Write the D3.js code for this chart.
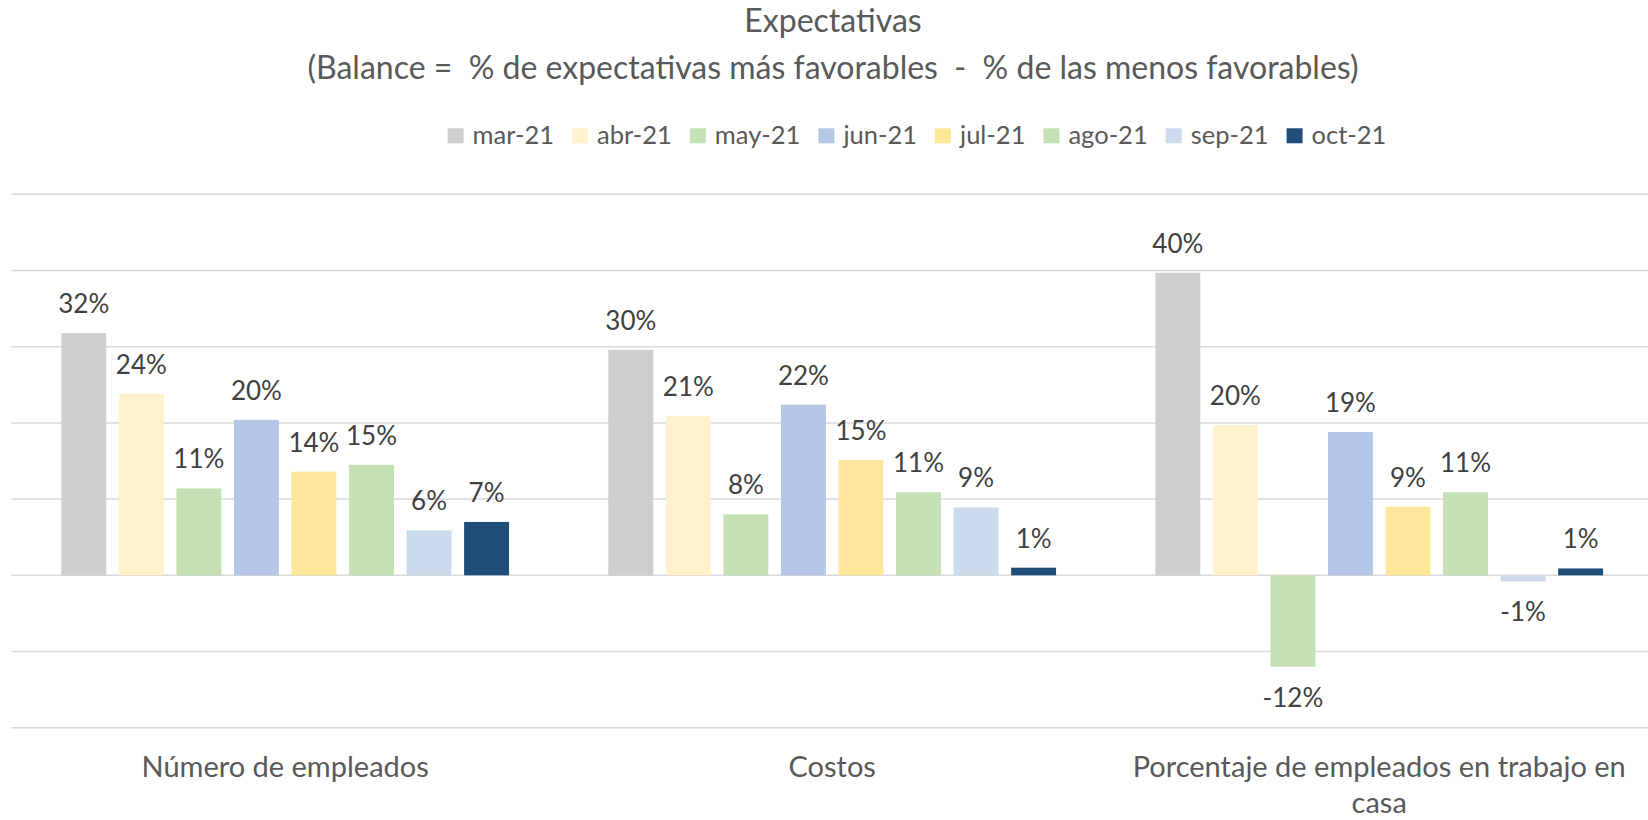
<!DOCTYPE html>
<html>
<head>
<meta charset="utf-8">
<script src="https://cdn.jsdelivr.net/npm/d3@7"></script>
<style>
  body { margin: 0; background: #fff; }
  text { font-family: Lato, "Open Sans", sans-serif; }
</style>
</head>
<body>
<div id="chart"></div>
<script>
const categories = ['Número de empleados', 'Costos', 'Porcentaje de empleados en trabajo en casa'];
const months = ['mar-21', 'abr-21', 'may-21', 'jun-21', 'jul-21', 'ago-21', 'sep-21', 'oct-21'];

// balance per month, one value per category (%)
const mar21 = [31.8, 29.6, 39.7];
const abr21 = [23.8, 20.9, 19.7];
const may21 = [11.4, 8.0, -12.0];
const jun21 = [20.4, 22.4, 18.8];
const jul21 = [13.6, 15.1, 9.0];
const ago21 = [14.5, 10.9, 10.9];
const sep21 = [5.9, 8.9, -0.8];
const oct21 = [7.0, 1.0, 0.9];
const gridTicks = [-20, -10, 0, 10, 20, 30, 40, 50];

const seriesValues = [mar21, abr21, may21, jun21, jul21, ago21, sep21, oct21];
const colors = ['#D0CECE', '#FFF2CC', '#C5E0B4', '#B4C7E7', '#FFE699', '#C5E0B4', '#CCDAEE', '#1F4E79'];

const W = 1648, H = 820;

const svg = d3.select('#chart').append('svg')
  .attr('width', W)
  .attr('height', H);

// title
const title = svg.append('text')
  .attr('text-anchor', 'middle')
  .attr('fill', '#595959')
  .style('font-size', '32px');
title.append('tspan').attr('x', 833).attr('y', 32).text('Expectativas');
title.append('tspan').attr('x', 833).attr('y', 79)
  .style('white-space', 'pre')
  .text('(Balance =  % de expectativas más favorables  -  % de las menos favorables)');

const x0 = d3.scaleBand()
  .domain(categories)
  .range([11.7, 1652.7])
  .paddingInner(0.1815)
  .paddingOuter(0.0907);

const x1 = d3.scaleBand()
  .domain(months)
  .range([0, x0.bandwidth()])
  .paddingInner(0.219);

const y = d3.scaleLinear()
  .domain([-20, 50])
  .range([727.7, 194.3]);

// gridlines
svg.append('g')
  .selectAll('line')
  .data(gridTicks)
  .join('line')
  .attr('x1', 11.3)
  .attr('x2', W)
  .attr('y1', d => y(d))
  .attr('y2', d => y(d))
  .attr('stroke', '#D9D9D9')
  .attr('stroke-width', 1.5);

const data = [];
months.forEach((m, i) => {
  categories.forEach((c, j) => {
    data.push({ month: m, cat: c, value: seriesValues[i][j], color: colors[i] });
  });
});

const groups = svg.append('g');

groups.selectAll('rect')
  .data(data)
  .join('rect')
  .attr('x', d => x0(d.cat) + x1(d.month))
  .attr('width', x1.bandwidth())
  .attr('y', d => y(Math.max(0, d.value)))
  .attr('height', d => Math.abs(y(d.value) - y(0)))
  .attr('fill', d => d.color);

// data labels
groups.selectAll('text')
  .data(data)
  .join('text')
  .attr('x', d => x0(d.cat) + x1(d.month) + x1.bandwidth() / 2)
  .attr('y', d => d.value >= 0 ? y(d.value) - 20 : y(d.value) + 40)
  .attr('text-anchor', 'middle')
  .attr('fill', '#404040')
  .style('font-size', '26px')
  .text(d => Math.round(d.value) + '%');

// category labels, wrapped like excel does
const catY = 777, lineGap = 36;
const catLabels = svg.append('g')
  .selectAll('text')
  .data(categories)
  .join('text')
  .attr('text-anchor', 'middle')
  .attr('fill', '#595959')
  .style('font-size', '29px')
  .attr('y', catY);

catLabels.each(function (d) {
  const t = d3.select(this);
  const cx = x0(d) + x0.bandwidth() / 2;
  const maxW = x0.step() * 0.96;
  const words = d.split(' ');
  let line = [];
  let lineNo = 0;
  let tspan = t.append('tspan').attr('x', cx).attr('y', catY);
  words.forEach(w => {
    line.push(w);
    tspan.text(line.join(' '));
    if (tspan.node().getComputedTextLength() > maxW && line.length > 1) {
      line.pop();
      tspan.text(line.join(' '));
      line = [w];
      lineNo++;
      tspan = t.append('tspan').attr('x', cx).attr('y', catY + lineNo * lineGap).text(w);
    }
  });
});

// legend
const legend = svg.append('g');
let lx = 0;
months.forEach((m, i) => {
  const item = legend.append('g').attr('transform', `translate(${lx},0)`);
  item.append('rect')
    .attr('x', 0)
    .attr('y', 128.3)
    .attr('width', 16)
    .attr('height', 15)
    .attr('fill', colors[i]);
  const label = item.append('text')
    .attr('x', 25)
    .attr('y', 144.3)
    .attr('fill', '#595959')
    .style('font-size', '25.5px')
    .text(m);
  lx += 25 + label.node().getComputedTextLength() + 18;
});
const legendW = lx - 18;
legend.attr('transform', `translate(${917 - legendW / 2},0)`);
</script>
</body>
</html>
